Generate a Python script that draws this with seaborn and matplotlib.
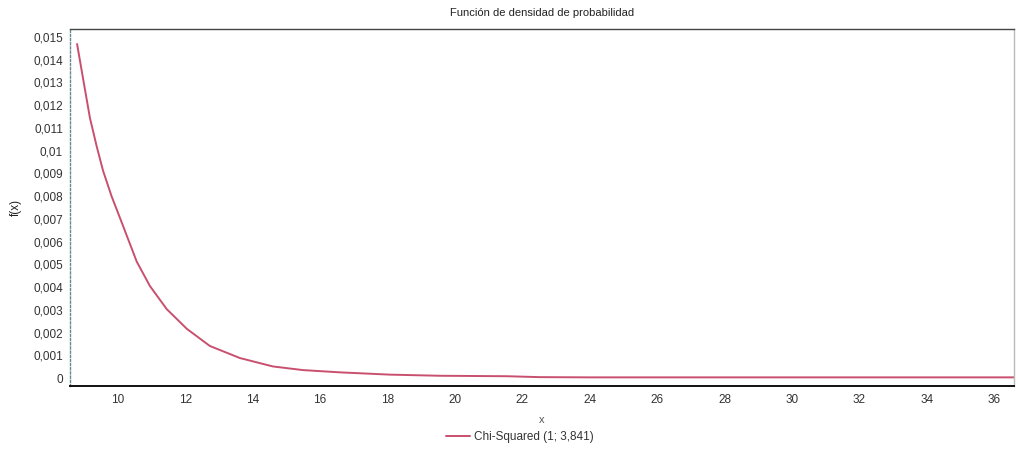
import matplotlib
matplotlib.use("Agg")
import matplotlib.pyplot as plt
import seaborn as sns
import pandas as pd

# Density curve sampled along x
x_vals = [8.79, 8.97, 9.17, 9.37, 9.56, 9.81, 10.11, 10.56, 10.95, 11.45,
          12.05, 12.73, 13.62, 14.60, 15.49, 16.59, 18.07, 19.55, 21.54,
          22.52, 24.0, 26.0, 28.0, 30.0, 32.0, 34.0, 36.6]
fx_vals = [0.01469, 0.01315, 0.01145, 0.01020, 0.00912, 0.00801, 0.00686, 0.00512,
           0.00405, 0.00303, 0.00216, 0.00141, 0.00088, 0.00051, 0.00035, 0.00025,
           0.00015, 0.00010, 0.00008, 0.00004, 0.00003, 0.00003, 0.00003, 0.00003,
           0.00003, 0.00003, 0.00003]

y_ticks = [0, 0.001, 0.002, 0.003, 0.004, 0.005, 0.006, 0.007, 0.008,
           0.009, 0.01, 0.011, 0.012, 0.013, 0.014, 0.015]
y_tick_labels = ["0", "0,001", "0,002", "0,003", "0,004", "0,005", "0,006", "0,007",
                 "0,008", "0,009", "0,01", "0,011", "0,012", "0,013", "0,014", "0,015"]
x_ticks = [10, 12, 14, 16, 18, 20, 22, 24, 26, 28, 30, 32, 34, 36]
x_tick_labels = [str(v) for v in x_ticks]

series_label = "Chi-Squared (1; 3,841)"
title = "Función de densidad de probabilidad"

sns.set_style("white")
plt.rcParams["font.family"] = ["Liberation Sans", "DejaVu Sans"]

df = pd.DataFrame({"x": x_vals, "f(x)": fx_vals})

fig = plt.figure(figsize=(10.18, 4.51), dpi=100)
ax = fig.add_axes([70 / 1018, 1 - 386 / 451, (1014 - 70) / 1018, (386 - 29) / 451])

line_color = "#c8506e"
sns.lineplot(data=df, x="x", y="f(x)", ax=ax, color=line_color, linewidth=1.4,
             label=series_label, legend=False)

ax.set_xlim(8.58, 36.59)
ax.set_ylim(-0.00035, 0.01535)
ax.set_xticks(x_ticks)
ax.set_xticklabels(x_tick_labels)
ax.set_yticks(y_ticks)
ax.set_yticklabels(y_tick_labels)
ax.tick_params(axis="both", labelsize=8.5, colors="#333333", length=3, width=0.6)
ax.tick_params(axis="x", direction="in", pad=6)
ax.tick_params(axis="y", direction="out", pad=2)

ax.spines["top"].set_color("#444444")
ax.spines["top"].set_linewidth(1.0)
ax.spines["right"].set_color("#bbbbbb")
ax.spines["right"].set_linewidth(1.0)
ax.spines["bottom"].set_color("#111111")
ax.spines["bottom"].set_linewidth(1.4)
ax.spines["left"].set_color("#6a8894")
ax.spines["left"].set_linewidth(1.0)
ax.spines["left"].set_linestyle((0, (1.5, 1.5)))

ax.set_title(title, fontsize=8, color="#222222", pad=9)
ax.set_xlabel("x", fontsize=8, color="#555555", labelpad=6)
ax.set_ylabel("f(x)", fontsize=8.5, color="#222222", labelpad=8)

handles, labels = ax.get_legend_handles_labels()
fig.legend(handles, labels, loc="center", bbox_to_anchor=(520 / 1018, 1 - 437 / 451),
           frameon=False, fontsize=8.5, handlelength=2.0, handletextpad=0.4,
           labelcolor="#333333")

fig.savefig("out.png", dpi=100, facecolor="white")
